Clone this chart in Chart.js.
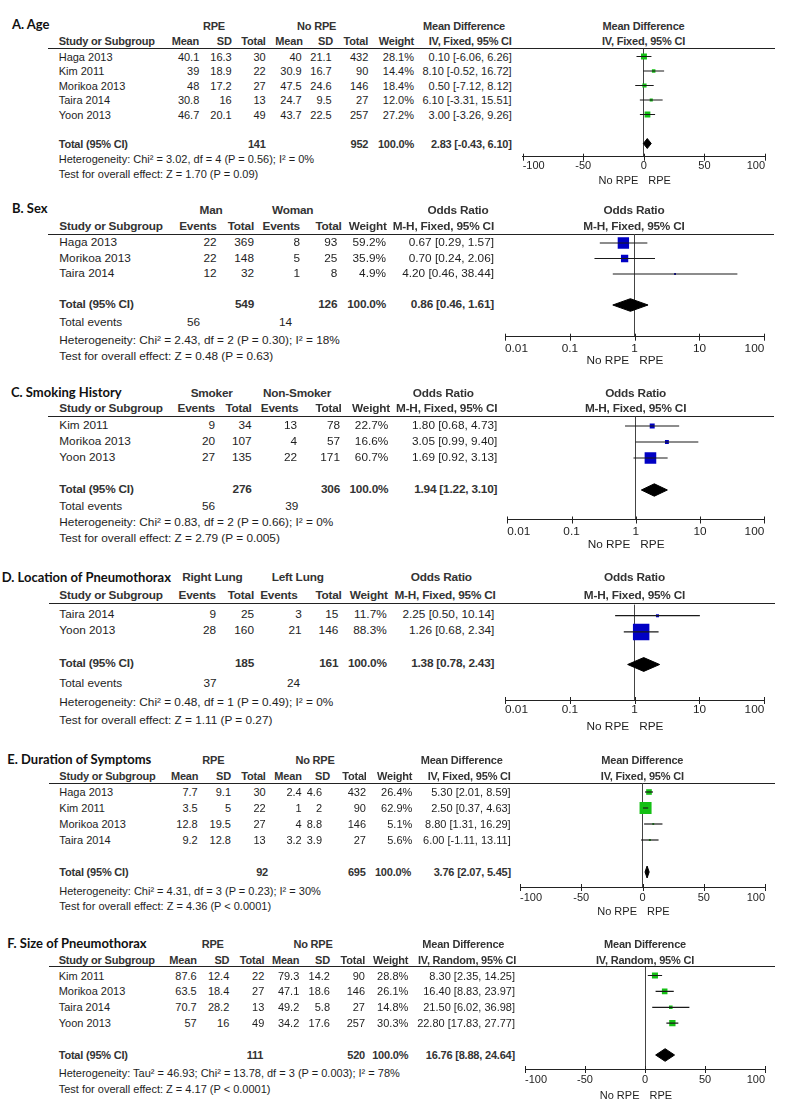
<!DOCTYPE html>
<html>
<head>
<meta charset="utf-8">
<script src="https://cdn.jsdelivr.net/npm/chart.js@4.4.1/dist/chart.umd.min.js"></script>
<style>
body { margin: 0; background: #fff; }
#page { position: relative; width: 790px; height: 1103px; overflow: hidden; background: #fff;
        font-family: "Liberation Sans", Arial, sans-serif; color: #1e1e1e; }
.t { position: absolute; white-space: nowrap; line-height: 1; }
.b { font-weight: bold; color: #333; letter-spacing: -0.2px; }
.ttl { font-family: Lato, "Liberation Sans", sans-serif; font-weight: bold; color: #111; letter-spacing: 0; }
.rule { position: absolute; height: 1px; background: #222; }
canvas { position: absolute; }
</style>
</head>
<body>
<div id="page"></div>
<script>
// A. Age
const ageStudy = ['Haga 2013', 'Kim 2011', 'Morikoa 2013', 'Taira 2014', 'Yoon 2013'];
const ageRpeMean = [40.1, 39, 48, 30.8, 46.7];
const ageRpeSd = [16.3, 18.9, 17.2, 16, 20.1];
const ageRpeN = [30, 22, 27, 13, 49];
const ageNoMean = [40, 30.9, 47.5, 24.7, 43.7];
const ageNoSd = [21.1, 16.7, 24.6, 9.5, 22.5];
const ageNoN = [432, 90, 146, 27, 257];
const ageWeight = [28.1, 14.4, 18.4, 12.0, 27.2];
const ageMd = [0.10, 8.10, 0.50, 6.10, 3.00];
const ageLo = [-6.06, -0.52, -7.12, -3.31, -3.26];
const ageHi = [6.26, 16.72, 8.12, 15.51, 9.26];
const ageTotal = [141, 952];
const ageOverall = [2.83, -0.43, 6.10];
const ageHet = 'Heterogeneity: Chi² = 3.02, df = 4 (P = 0.56); I² = 0%';
const ageTest = 'Test for overall effect: Z = 1.70 (P = 0.09)';

// B. Sex
const sexStudy = ['Haga 2013', 'Morikoa 2013', 'Taira 2014'];
const sexManEv = [22, 22, 12];
const sexManN = [369, 148, 32];
const sexWomanEv = [8, 5, 1];
const sexWomanN = [93, 25, 8];
const sexWeight = [59.2, 35.9, 4.9];
const sexOr = [0.67, 0.70, 4.20];
const sexLo = [0.29, 0.24, 0.46];
const sexHi = [1.57, 2.06, 38.44];
const sexTotal = [549, 126];
const sexEvents = [56, 14];
const sexOverall = [0.86, 0.46, 1.61];
const sexHet = 'Heterogeneity: Chi² = 2.43, df = 2 (P = 0.30); I² = 18%';
const sexTest = 'Test for overall effect: Z = 0.48 (P = 0.63)';

// C. Smoking History
const smkStudy = ['Kim 2011', 'Morikoa 2013', 'Yoon 2013'];
const smkYesEv = [9, 20, 27];
const smkYesN = [34, 107, 135];
const smkNoEv = [13, 4, 22];
const smkNoN = [78, 57, 171];
const smkWeight = [22.7, 16.6, 60.7];
const smkOr = [1.80, 3.05, 1.69];
const smkLo = [0.68, 0.99, 0.92];
const smkHi = [4.73, 9.40, 3.13];
const smkTotal = [276, 306];
const smkEvents = [56, 39];
const smkOverall = [1.94, 1.22, 3.10];
const smkHet = 'Heterogeneity: Chi² = 0.83, df = 2 (P = 0.66); I² = 0%';
const smkTest = 'Test for overall effect: Z = 2.79 (P = 0.005)';

// D. Location of Pneumothorax
const locStudy = ['Taira 2014', 'Yoon 2013'];
const locRightEv = [9, 28];
const locRightN = [25, 160];
const locLeftEv = [3, 21];
const locLeftN = [15, 146];
const locWeight = [11.7, 88.3];
const locOr = [2.25, 1.26];
const locLo = [0.50, 0.68];
const locHi = [10.14, 2.34];
const locTotal = [185, 161];
const locEvents = [37, 24];
const locOverall = [1.38, 0.78, 2.43];
const locHet = 'Heterogeneity: Chi² = 0.48, df = 1 (P = 0.49); I² = 0%';
const locTest = 'Test for overall effect: Z = 1.11 (P = 0.27)';

// E. Duration of Symptoms
const durStudy = ['Haga 2013', 'Kim 2011', 'Morikoa 2013', 'Taira 2014'];
const durRpeMean = [7.7, 3.5, 12.8, 9.2];
const durRpeSd = [9.1, 5, 19.5, 12.8];
const durRpeN = [30, 22, 27, 13];
const durNoMean = [2.4, 1, 4, 3.2];
const durNoSd = [4.6, 2, 8.8, 3.9];
const durNoN = [432, 90, 146, 27];
const durWeight = [26.4, 62.9, 5.1, 5.6];
const durMd = [5.30, 2.50, 8.80, 6.00];
const durLo = [2.01, 0.37, 1.31, -1.11];
const durHi = [8.59, 4.63, 16.29, 13.11];
const durTotal = [92, 695];
const durOverall = [3.76, 2.07, 5.45];
const durHet = 'Heterogeneity: Chi² = 4.31, df = 3 (P = 0.23); I² = 30%';
const durTest = 'Test for overall effect: Z = 4.36 (P < 0.0001)';

// F. Size of Pneumothorax
const sizStudy = ['Kim 2011', 'Morikoa 2013', 'Taira 2014', 'Yoon 2013'];
const sizRpeMean = [87.6, 63.5, 70.7, 57];
const sizRpeSd = [12.4, 18.4, 28.2, 16];
const sizRpeN = [22, 27, 13, 49];
const sizNoMean = [79.3, 47.1, 49.2, 34.2];
const sizNoSd = [14.2, 18.6, 5.8, 17.6];
const sizNoN = [90, 146, 27, 257];
const sizWeight = [28.8, 26.1, 14.8, 30.3];
const sizMd = [8.30, 16.40, 21.50, 22.80];
const sizLo = [2.35, 8.83, 6.02, 17.83];
const sizHi = [14.25, 23.97, 36.98, 27.77];
const sizTotal = [111, 520];
const sizOverall = [16.76, 8.88, 24.64];
const sizHet = 'Heterogeneity: Tau² = 46.93; Chi² = 13.78, df = 3 (P = 0.003); I² = 78%';
const sizTest = 'Test for overall effect: Z = 4.17 (P < 0.0001)';

const mdTicks = [-100, -50, 0, 50, 100];
const orTicks = [0.01, 0.1, 1, 10, 100];

const green = '#14c014';
const blue = '#0000c4';

const page = document.getElementById('page');
const f2 = v => v.toFixed(2);
const ciText = (e, l, h) => `${f2(e)} [${f2(l)}, ${f2(h)}]`;
const pct = w => w.toFixed(1) + '%';

function txt(s, x, y, align, cls, size) {
    const el = document.createElement('div');
    el.className = 't ' + (cls || '');
    el.textContent = String(s);
    el.style.left = x + 'px';
    el.style.top = y + 'px';
    el.style.fontSize = size + 'px';
    const tx = align === 'r' ? '-100%' : align === 'c' ? '-50%' : '0';
    el.style.transform = `translate(${tx}, -50%)`;
    page.appendChild(el);
}

function rule(x0, x1, y) {
    const el = document.createElement('div');
    el.className = 'rule';
    el.style.left = x0 + 'px';
    el.style.width = (x1 - x0) + 'px';
    el.style.top = Math.round(y - 0.5) + 'px';
    page.appendChild(el);
}

// small tick marks crossing the x axis line
const tickMarks = {
    id: 'tickMarks',
    afterDraw(chart) {
        const sx = chart.scales.x, c = chart.ctx;
        c.save();
        c.strokeStyle = '#222';
        c.lineWidth = 1;
        sx.ticks.forEach(t => {
            const px = Math.round(sx.getPixelForValue(t.value)) + 0.5;
            c.beginPath();
            c.moveTo(px, sx.top - 3);
            c.lineTo(px, sx.top + 4);
            c.stroke();
        });
        c.restore();
    }
};

function forest(p) {
    const lh = p.font * 1.2;
    const pad = p.labelOff - lh / 2;
    const axisBox = lh + 2 * pad;
    const left = Math.floor(p.x0) - 14;
    const top = Math.floor(p.ruleY) - 10;
    const W = Math.ceil(p.x1) + 14 - left;
    const H = Math.ceil(p.axisY + axisBox) + 4 - top;
    const cv = document.createElement('canvas');
    cv.width = W; cv.height = H;
    cv.style.left = left + 'px';
    cv.style.top = top + 'px';
    page.appendChild(cv);

    const n = p.est.length;
    const yMin = -(p.row0 - p.ruleY) / p.rowH;
    const yMax = yMin + (p.axisY - p.ruleY) / p.rowH;
    const ty = n + 1;
    const dh = p.dia / p.rowH;
    const [oe, ol, oh] = p.overall;

    const datasets = p.est.map((e, i) => ({
        type: 'line',
        data: [{ x: p.lo[i], y: i }, { x: p.hi[i], y: i }],
        borderColor: '#1a1a1a', borderWidth: 1.2, pointRadius: 0, showLine: true
    }));
    datasets.push({
        type: 'scatter',
        data: p.est.map((e, i) => ({ x: e, y: i })),
        pointStyle: 'rect',
        backgroundColor: p.color,
        borderWidth: 0,
        pointRadius: p.weight.map(w => (1 + 0.175 * w) / Math.SQRT2)
    });
    datasets.push({
        type: 'line',
        data: [{ x: ol, y: ty }, { x: oe, y: ty - dh }, { x: oh, y: ty }, { x: oe, y: ty + dh }, { x: ol, y: ty }],
        borderColor: '#000', backgroundColor: '#000', borderWidth: 1,
        fill: 'shape', pointRadius: 0, tension: 0
    });

    const chart = new Chart(cv.getContext('2d'), {
        type: 'scatter',
        data: { datasets: datasets },
        options: {
            responsive: false,
            animation: false,
            events: [],
            layout: {
                padding: {
                    left: p.x0 - left,
                    right: W - (p.x1 - left),
                    top: p.ruleY - top,
                    bottom: H - (p.axisY - top) - axisBox
                }
            },
            plugins: { legend: { display: false }, tooltip: { enabled: false } },
            scales: {
                x: {
                    type: p.log ? 'logarithmic' : 'linear',
                    min: p.ticks[0],
                    max: p.ticks[p.ticks.length - 1],
                    afterBuildTicks: s => { s.ticks = p.ticks.map(v => ({ value: v })); },
                    ticks: {
                        align: 'inner', autoSkip: false, maxRotation: 0, minRotation: 0,
                        padding: pad, color: '#1e1e1e',
                        font: { family: '"Liberation Sans", Arial, sans-serif', size: p.font },
                        callback: v => String(v)
                    },
                    grid: {
                        drawTicks: false,
                        color: c => (c.tick && c.tick.value === p.ref) ? '#444' : 'rgba(0,0,0,0)'
                    },
                    border: { color: '#222', width: 1 }
                },
                y: { type: 'linear', display: false, reverse: true, min: yMin, max: yMax }
            }
        },
        plugins: [tickMarks]
    });

    const zx = left + chart.scales.x.getPixelForValue(p.ref);
    txt('No RPE', zx - 5.5, p.noY, 'r', '', p.font);
    txt('RPE', zx + 4.5, p.noY, 'l', '', p.font);
}

function drawPanel(p) {
    const fs = p.font;
    txt(p.title, p.titleX, p.titleY, 'l', 'ttl', 13);
    p.hdr1.forEach(h => txt(h[0], h[1], p.hdr1Y, 'c', 'b', fs));
    txt('Study or Subgroup', p.studyX, p.hdr2Y, 'l', 'b', fs);
    p.hdr2.forEach(h => txt(h[0], h[1], p.hdr2Y, 'r', 'b', fs));
    rule(p.ruleX[0], p.ruleX[1], p.ruleY);
    p.studies.forEach((s, i) => {
        const y = p.row0 + i * p.rowH;
        txt(s, p.studyX, y, 'l', '', fs);
        p.rows[i].forEach((v, j) => txt(v, p.cols[j], y, 'r', '', fs));
    });
    const ty = p.row0 + (p.studies.length + 1) * p.rowH;
    txt('Total (95% CI)', p.studyX, ty, 'l', 'b', fs);
    p.totalCells.forEach(c => txt(c[0], c[1], ty, 'r', 'b', fs));
    p.notes.forEach(nt => txt(nt[0], nt[1], nt[2], nt[3] || 'l', '', fs));
    txt(p.plotHdr[0], p.plotCx, p.hdr1Y, 'c', 'b', fs);
    txt(p.plotHdr[1], p.plotCx, p.hdr2Y, 'c', 'b', fs);
    forest(p);
}

// A. Age
drawPanel({
    title: 'A. Age', titleX: 12, titleY: 24, font: 11,
    hdr1Y: 26, hdr1: [['RPE', 214], ['No RPE', 316.7], ['Mean Difference', 464]],
    hdr2Y: 41, studyX: 58.7,
    hdr2: [['Mean', 199], ['SD', 231.7], ['Total', 265.7], ['Mean', 302.7], ['SD', 333], ['Total', 368], ['Weight', 414], ['IV, Fixed, 95% CI', 511.7]],
    ruleY: 48.5, ruleX: [48, 775], row0: 56.5, rowH: 14.5,
    studies: ageStudy,
    rows: ageStudy.map((s, i) => [ageRpeMean[i], ageRpeSd[i], ageRpeN[i], ageNoMean[i], ageNoSd[i], ageNoN[i], pct(ageWeight[i]), ciText(ageMd[i], ageLo[i], ageHi[i])]),
    cols: [199.3, 231.7, 265.7, 301.7, 331.7, 368.3, 414, 511.7],
    totalCells: [[ageTotal[0], 265.7], [ageTotal[1], 368.3], ['100.0%', 414], [ciText(...ageOverall), 511.7]],
    notes: [[ageHet, 58.7, 159], [ageTest, 58.7, 174.3]],
    plotHdr: ['Mean Difference', 'IV, Fixed, 95% CI'], plotCx: 643.5,
    est: ageMd, lo: ageLo, hi: ageHi, weight: ageWeight, overall: ageOverall,
    color: green, log: false, ticks: mdTicks, ref: 0,
    x0: 522.7, x1: 765, axisY: 156.7, labelOff: 9.3, noY: 180, dia: 5
});

// B. Sex
drawPanel({
    title: 'B. Sex', titleX: 12, titleY: 208.3, font: 11.8,
    hdr1Y: 210.7, hdr1: [['Man', 211], ['Woman', 292.7], ['Odds Ratio', 458]],
    hdr2Y: 226.7, studyX: 59.3,
    hdr2: [['Events', 216.7], ['Total', 254], ['Events', 300], ['Total', 341.7], ['Weight', 386.7], ['M-H, Fixed, 95% CI', 494]],
    ruleY: 234, ruleX: [48, 774], row0: 243, rowH: 15.5,
    studies: sexStudy,
    rows: sexStudy.map((s, i) => [sexManEv[i], sexManN[i], sexWomanEv[i], sexWomanN[i], pct(sexWeight[i]), ciText(sexOr[i], sexLo[i], sexHi[i])]),
    cols: [216.7, 254, 300, 337.3, 386, 494],
    totalCells: [[sexTotal[0], 254], [sexTotal[1], 337.3], ['100.0%', 386], [ciText(...sexOverall), 494]],
    notes: [['Total events', 59.3, 323.3], [sexEvents[0], 200, 323.3, 'r'], [sexEvents[1], 292, 323.3, 'r'], [sexHet, 59.3, 341], [sexTest, 59.3, 357]],
    plotHdr: ['Odds Ratio', 'M-H, Fixed, 95% CI'], plotCx: 634,
    est: sexOr, lo: sexLo, hi: sexHi, weight: sexWeight, overall: sexOverall,
    color: blue, log: true, ticks: orTicks, ref: 1,
    x0: 505, x1: 764.3, axisY: 336.7, labelOff: 11.6, noY: 361, dia: 6.3
});

// C. Smoking History
drawPanel({
    title: 'C. Smoking History', titleX: 11, titleY: 391.7, font: 11.8,
    hdr1Y: 394, hdr1: [['Smoker', 211.7], ['Non-Smoker', 297], ['Odds Ratio', 443.3]],
    hdr2Y: 409.3, studyX: 59.3,
    hdr2: [['Events', 215], ['Total', 251.7], ['Events', 298.3], ['Total', 341.7], ['Weight', 390], ['M-H, Fixed, 95% CI', 497.3]],
    ruleY: 416.7, ruleX: [48, 774], row0: 426, rowH: 16,
    studies: smkStudy,
    rows: smkStudy.map((s, i) => [smkYesEv[i], smkYesN[i], smkNoEv[i], smkNoN[i], pct(smkWeight[i]), ciText(smkOr[i], smkLo[i], smkHi[i])]),
    cols: [215, 251.7, 297, 340, 388.3, 497.3],
    totalCells: [[smkTotal[0], 251.7], [smkTotal[1], 340], ['100.0%', 388.3], [ciText(...smkOverall), 497.3]],
    notes: [['Total events', 59.3, 507.3], [smkEvents[0], 215, 507.3, 'r'], [smkEvents[1], 298.3, 507.3, 'r'], [smkHet, 59.3, 523.3], [smkTest, 59.3, 539.3]],
    plotHdr: ['Odds Ratio', 'M-H, Fixed, 95% CI'], plotCx: 635.6,
    est: smkOr, lo: smkLo, hi: smkHi, weight: smkWeight, overall: smkOverall,
    color: blue, log: true, ticks: orTicks, ref: 1,
    x0: 507.3, x1: 764.3, axisY: 519.5, labelOff: 12, noY: 545, dia: 6.2
});

// D. Location of Pneumothorax
drawPanel({
    title: 'D. Location of Pneumothorax', titleX: 1.7, titleY: 577.3, font: 11.8,
    hdr1Y: 578.3, hdr1: [['Right Lung', 212.3], ['Left Lung', 297.7], ['Odds Ratio', 441.3]],
    hdr2Y: 596, studyX: 59.3,
    hdr2: [['Events', 216], ['Total', 254], ['Events', 297.7], ['Total', 341.7], ['Weight', 387.7], ['M-H, Fixed, 95% CI', 495.7]],
    ruleY: 603.3, ruleX: [49.3, 775], row0: 614.5, rowH: 16.5,
    studies: locStudy,
    rows: locStudy.map((s, i) => [locRightEv[i], locRightN[i], locLeftEv[i], locLeftN[i], pct(locWeight[i]), ciText(locOr[i], locLo[i], locHi[i])]),
    cols: [216, 254, 301.7, 338.3, 386.7, 494.3],
    totalCells: [[locTotal[0], 254], [locTotal[1], 338.3], ['100.0%', 386.7], [ciText(...locOverall), 494.3]],
    notes: [['Total events', 59.3, 684.3], [locEvents[0], 216.7, 684.3, 'r'], [locEvents[1], 300, 684.3, 'r'], [locHet, 59.3, 703.3], [locTest, 59.3, 721]],
    plotHdr: ['Odds Ratio', 'M-H, Fixed, 95% CI'], plotCx: 634.5,
    est: locOr, lo: locLo, hi: locHi, weight: locWeight, overall: locOverall,
    color: blue, log: true, ticks: orTicks, ref: 1,
    x0: 505, x1: 764.3, axisY: 700, labelOff: 10, noY: 726.7, dia: 7
});

// E. Duration of Symptoms
drawPanel({
    title: 'E. Duration of Symptoms', titleX: 7.3, titleY: 759, font: 11,
    hdr1Y: 760, hdr1: [['RPE', 213.3], ['No RPE', 315], ['Mean Difference', 461.7]],
    hdr2Y: 776, studyX: 59.3,
    hdr2: [['Mean', 198.3], ['SD', 231], ['Total', 265.7], ['Mean', 301.7], ['SD', 330], ['Total', 366.7], ['Weight', 412.3], ['IV, Fixed, 95% CI', 510.7]],
    ruleY: 783, ruleX: [49.3, 775], row0: 792, rowH: 16,
    studies: durStudy,
    rows: durStudy.map((s, i) => [durRpeMean[i], durRpeSd[i], durRpeN[i], durNoMean[i], durNoSd[i], durNoN[i], pct(durWeight[i]), ciText(durMd[i], durLo[i], durHi[i])]),
    cols: [197.7, 231, 265.7, 301.7, 322, 366, 412.3, 510.7],
    totalCells: [[durTotal[0], 268], [durTotal[1], 365.7], ['100.0%', 411], [ciText(...durOverall), 511]],
    notes: [[durHet, 59.3, 890.7], [durTest, 59.3, 906.3]],
    plotHdr: ['Mean Difference', 'IV, Fixed, 95% CI'], plotCx: 642.3,
    est: durMd, lo: durLo, hi: durHi, weight: durWeight, overall: durOverall,
    color: green, log: false, ticks: mdTicks, ref: 0,
    x0: 520, x1: 765, axisY: 887, labelOff: 11, noY: 911.3, dia: 6
});

// F. Size of Pneumothorax
drawPanel({
    title: 'F. Size of Pneumothorax', titleX: 7.3, titleY: 943, font: 11,
    hdr1Y: 944, hdr1: [['RPE', 212.7], ['No RPE', 313], ['Mean Difference', 463.3]],
    hdr2Y: 959.7, studyX: 58.7,
    hdr2: [['Mean', 196.7], ['SD', 229.3], ['Total', 264.3], ['Mean', 299.3], ['SD', 330], ['Total', 365], ['Weight', 408.3], ['IV, Random, 95% CI', 516]],
    ruleY: 966.7, ruleX: [49.3, 775], row0: 975.5, rowH: 15.9,
    studies: sizStudy,
    rows: sizStudy.map((s, i) => [sizRpeMean[i], sizRpeSd[i], sizRpeN[i], sizNoMean[i], sizNoSd[i], sizNoN[i], pct(sizWeight[i]), ciText(sizMd[i], sizLo[i], sizHi[i])]),
    cols: [196.7, 229.3, 264.3, 299.3, 330, 365, 408.3, 515],
    totalCells: [[sizTotal[0], 263.3], [sizTotal[1], 365], ['100.0%', 408.3], [ciText(...sizOverall), 515]],
    notes: [[sizHet, 58.7, 1073], [sizTest, 58.7, 1088.7]],
    plotHdr: ['Mean Difference', 'IV, Random, 95% CI'], plotCx: 645,
    est: sizMd, lo: sizLo, hi: sizHi, weight: sizWeight, overall: sizOverall,
    color: green, log: false, ticks: mdTicks, ref: 0,
    x0: 525, x1: 765, axisY: 1069, labelOff: 11.3, noY: 1095.3, dia: 6.3
});
</script>
</body>
</html>
